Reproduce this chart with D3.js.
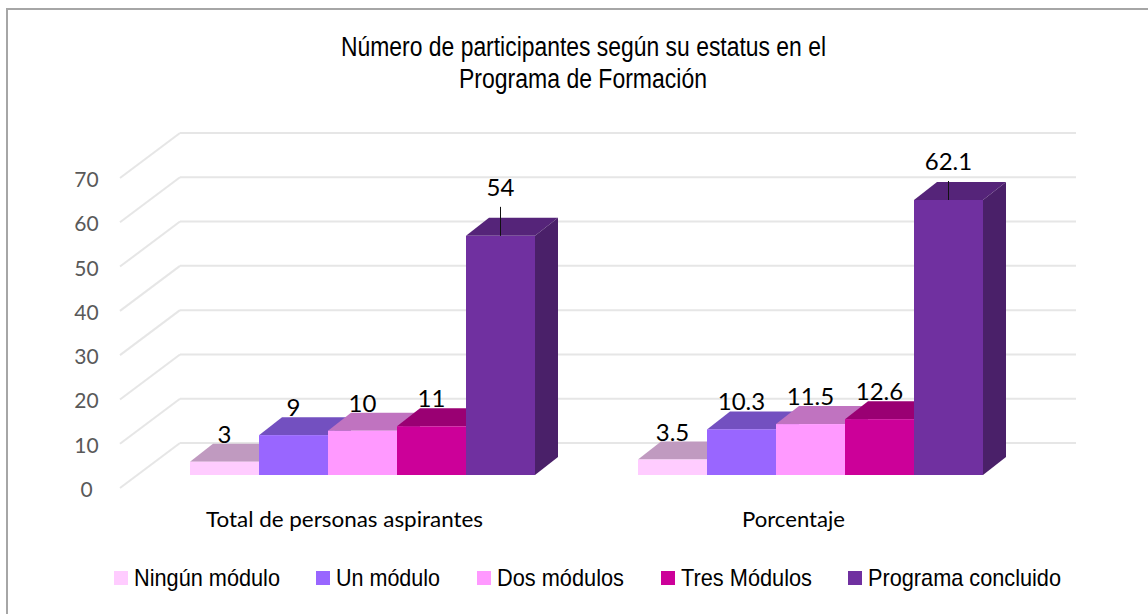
<!DOCTYPE html>
<html><head><meta charset="utf-8">
<script src="https://cdn.jsdelivr.net/npm/d3@7/dist/d3.min.js"></script>
<style>html,body{margin:0;padding:0;background:#fff}svg{display:block}</style>
</head><body><svg id="c" width="1148" height="614"></svg>
<script>
const categories = ["Total de personas aspirantes", "Porcentaje"];
const seriesNames = ["Ningún módulo", "Un módulo", "Dos módulos", "Tres Módulos", "Programa concluido"];
const totalValues = [3, 9, 10, 11, 54];
const percentValues = [3.5, 10.3, 11.5, 12.6, 62.1];
const axisTicks = [0, 10, 20, 30, 40, 50, 60, 70];
const frontColors = ["#ffccff", "#9966ff", "#ff99ff", "#cc0099", "#7030a0"];
const topColors = ["#c09ac0", "#7350c0", "#c073c0", "#9a0073", "#552479"];
const sideColors = ["#9a7a9a", "#5c3d99", "#995c99", "#7a005c", "#4a2069"];
const titleLines = ["Número de participantes según su estatus en el", "Programa de Formación"];

const svg = d3.select("#c");
svg.append("line").attr("x1",6).attr("x2",1148).attr("y1",9).attr("y2",9).attr("stroke","#a6a6a6").attr("stroke-width",2);
svg.append("line").attr("x1",7).attr("x2",7).attr("y1",8).attr("y2",614).attr("stroke","#a6a6a6").attr("stroke-width",2);

const yBack = d3.scaleLinear().domain([0,70]).range([443,133]);
const yWall = d3.scaleLinear().domain([0,70]).range([488,178]);
const yFront = d3.scaleLinear().domain([0,70]).range([475,165]);
const groupX = d3.scaleOrdinal().domain(categories).range([190,638]);
const barX = d3.scaleBand().domain(seriesNames).range([0,345]).padding(0);
const dx = 23, dy = 18;
const grid = "#e6e6e6";
const labelFont = "Lato, 'Open Sans', sans-serif";
const headFont = "'Liberation Sans', Arial, sans-serif";

const g = svg.append("g");
axisTicks.forEach(t=>{
  g.append("line").attr("x1",120).attr("y1",yWall(t)).attr("x2",180).attr("y2",yBack(t)).attr("stroke",grid).attr("stroke-width",2);
  g.append("line").attr("x1",180).attr("y1",yBack(t)).attr("x2",1076).attr("y2",yBack(t)).attr("stroke",grid).attr("stroke-width",2);
  g.append("text").attr("x",86.5).attr("y",yWall(t)+9).attr("text-anchor","middle")
    .attr("font-family",labelFont).attr("font-size",21).attr("fill","#595959").text(t);
});

const line = d3.line();
[totalValues, percentValues].forEach((vals,gi)=>{
  const x0 = groupX(categories[gi]);
  const w = barX.bandwidth();
  vals.forEach((v,i)=>{
    const x = x0 + barX(seriesNames[i]);
    const yT = yFront(v), yB = yFront(0);
    g.append("path").attr("d",line([[x,yT],[x+dx,yT-dy],[x+w+dx,yT-dy],[x+w,yT]])+"Z").attr("fill",topColors[i]);
    g.append("path").attr("d",line([[x+w,yT],[x+w+dx,yT-dy],[x+w+dx,yB-dy],[x+w,yB]])+"Z").attr("fill",sideColors[i]);
    g.append("rect").attr("x",x).attr("y",yT).attr("width",w).attr("height",yB-yT).attr("fill",frontColors[i]);
  });
  vals.forEach((v,i)=>{
    const x = x0 + barX(seriesNames[i]) + barX.bandwidth()/2;
    const yT = yFront(v);
    const tall = v>50;
    const off = tall ? (gi===0?40:30) : 19;
    if(tall){
      g.append("line").attr("x1",x).attr("x2",x).attr("y1",yT).attr("y2",yT-(gi===0?29:19)).attr("stroke","#111").attr("stroke-width",1);
    }
    g.append("text").attr("x",x).attr("y",yT-off).attr("text-anchor","middle")
      .attr("font-family",labelFont).attr("font-size",24).attr("fill","#000").text(v);
  });
});

const catStart = [206, 742], catWidth = [277, 103];
categories.forEach((c,i)=>{
  g.append("text").attr("x",catStart[i]).attr("y",527).attr("textLength",catWidth[i]).attr("lengthAdjust","spacingAndGlyphs")
   .attr("font-family",labelFont).attr("font-size",21).attr("fill","#000").text(c);
});

const titleStart = [341, 459], titleWidth = [485, 248], titleBase = [56, 88];
titleLines.forEach((t,i)=>{
  g.append("text").attr("x",titleStart[i]).attr("y",titleBase[i]).attr("textLength",titleWidth[i]).attr("lengthAdjust","spacingAndGlyphs")
   .attr("font-family",headFont).attr("font-size",27).attr("fill","#000").text(t);
});

const legendX = [114, 316, 477, 661, 848];
const legendWidth = [146, 104, 127, 131, 193];
seriesNames.forEach((n,i)=>{
  g.append("rect").attr("x",legendX[i]).attr("y",571).attr("width",14).attr("height",14).attr("fill",frontColors[i]);
  g.append("text").attr("x",legendX[i]+20).attr("y",586).attr("textLength",legendWidth[i]).attr("lengthAdjust","spacingAndGlyphs")
   .attr("font-family",headFont).attr("font-size",24).attr("fill","#000").text(n);
});
</script></body></html>
